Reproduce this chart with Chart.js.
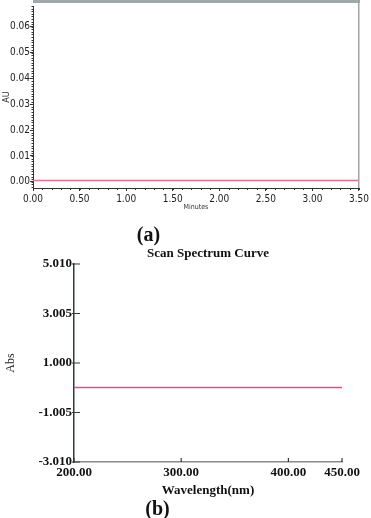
<!DOCTYPE html>
<html><head><meta charset="utf-8">
<script src="https://cdn.jsdelivr.net/npm/chart.js@4/dist/chart.umd.min.js"></script>
<style>
html,body{margin:0;padding:0;background:#fff;}
#wrap{position:relative;width:371px;height:518px;overflow:hidden;background:#fff;}
.box{position:absolute;left:0;width:371px;}
.lbl{position:absolute;font-family:'Liberation Serif','Times New Roman',serif;font-weight:bold;color:#111;white-space:nowrap;transform:translate(-50%,-50%);line-height:1;}
</style></head><body>
<div id="wrap">
 <div class="box" style="top:0;height:215px"><canvas id="ca"></canvas></div>
 <div class="box" style="top:240px;height:278px"><canvas id="cb"></canvas></div>
 <div class="lbl" style="left:148.5px;top:234px;font-size:20px">(a)</div>
 <div class="lbl" style="left:208px;top:252px;font-size:13px">Scan Spectrum Curve</div>
 <div class="lbl" style="left:157.5px;top:508px;font-size:20px">(b)</div>
</div>
<script>
// ---- Chart (a) data ----
const timeMinutes = [0, 0.5, 1.0, 1.5, 2.0, 2.5, 3.0, 3.5];
const auValues = [0.0005, 0.0005, 0.0005, 0.0005, 0.0005, 0.0005, 0.0005, 0.0005];
const auTicks = [0, 0.01, 0.02, 0.03, 0.04, 0.05, 0.06];
const minuteTicks = [0, 0.5, 1.0, 1.5, 2.0, 2.5, 3.0, 3.5];

// ---- Chart (b) data ----
const wavelengths = [200, 250, 300, 350, 400, 450];
const absValues = [0.01, 0.01, 0.01, 0.01, 0.01, 0.01];
const absTicks = [5.010, 3.005, 1.000, -1.005, -3.010];
const wavelengthTicks = [200, 300, 400, 450];

const narrow = "'Liberation Sans Narrow','DejaVu Sans Condensed','Liberation Sans',Arial,sans-serif";
const serif = "'Liberation Serif','Times New Roman',serif";

const decoA = {
  id: 'decoA',
  afterDraw(chart) {
    const {ctx, chartArea: a, scales: {x, y}} = chart;
    ctx.save();
    ctx.fillStyle = '#9fa9a9';
    ctx.fillRect(a.left, 0, a.right - a.left + 1, 3);
    ctx.fillStyle = '#a3a3a3';
    ctx.fillRect(a.right - 1, 0, 1.5, a.bottom);
    ctx.strokeStyle = '#333';
    ctx.lineWidth = 1;
    ctx.beginPath();
    for (let i = 0; i <= 35; i++) {
      const px = Math.round(x.getPixelForValue(i * 0.1)) + 0.5;
      ctx.moveTo(px, a.bottom); ctx.lineTo(px, a.bottom + 2);
    }
    for (let i = -2; i <= 68; i++) {
      const py = Math.round(y.getPixelForValue(i * 0.001)) + 0.5;
      ctx.moveTo(a.left - 1.5, py); ctx.lineTo(a.left + 0.5, py);
    }
    ctx.stroke();
    ctx.restore();
  }
};

new Chart(document.getElementById('ca'), {
  type: 'line',
  data: { datasets: [{
    data: timeMinutes.map((t, i) => ({x: t, y: auValues[i]})),
    borderColor: '#e0708c', borderWidth: 1.5, pointRadius: 0, fill: false, tension: 0
  }]},
  options: {
    responsive: true, maintainAspectRatio: false, animation: false,
    layout: {padding: {left: 0, right: 7, top: 3, bottom: 0}},
    plugins: {legend: {display: false}, tooltip: {enabled: false}},
    scales: {
      x: {
        type: 'linear', min: 0, max: 3.5,
        afterBuildTicks: s => { s.ticks = minuteTicks.map(v => ({value: v})); },
        afterFit: s => { s.height = 27; },
        grid: {drawOnChartArea: false, drawTicks: true, tickLength: 3, color: '#333'},
        border: {color: '#333', width: 1},
        ticks: {padding: 2, maxRotation: 0, autoSkip: false, color: '#222',
          font: {family: narrow, size: 10}, callback: v => Number(v).toFixed(2)},
        title: {display: true, text: 'Minutes', color: '#333',
          font: {family: narrow, size: 7}, padding: {top: 0, bottom: 4}}
      },
      y: {
        type: 'linear', min: -0.0024, max: 0.068,
        afterBuildTicks: s => { s.ticks = auTicks.map(v => ({value: v})); },
        afterFit: s => { s.width = 33; },
        grid: {drawOnChartArea: false, drawTicks: true, tickLength: 3, color: '#333'},
        border: {color: '#333', width: 1},
        ticks: {padding: 0, autoSkip: false, color: '#222',
          font: {family: narrow, size: 10}, callback: v => Number(v).toFixed(2)},
        title: {display: true, text: 'AU', color: '#333',
          font: {family: narrow, size: 9}, padding: {top: 1, bottom: 0}}
      }
    }
  },
  plugins: [decoA]
});

const decoB = {
  id: 'decoB',
  afterDraw(chart) {
    const {ctx, chartArea: a, scales: {x, y}} = chart;
    ctx.save();
    ctx.strokeStyle = '#2f3b3b';
    ctx.lineWidth = 1.2;
    ctx.beginPath();
    absTicks.forEach(v => { const py = y.getPixelForValue(v); ctx.moveTo(a.left - 2, py); ctx.lineTo(a.left + 6, py); });
    wavelengthTicks.forEach(v => { const px = x.getPixelForValue(v); ctx.moveTo(px, a.bottom); ctx.lineTo(px, a.bottom - 4); });
    ctx.stroke();
    ctx.restore();
  }
};

new Chart(document.getElementById('cb'), {
  type: 'line',
  data: { datasets: [{
    data: wavelengths.map((w, i) => ({x: w, y: absValues[i]})),
    borderColor: '#d6548c', borderWidth: 1.5, pointRadius: 0, fill: false, tension: 0
  }]},
  options: {
    responsive: true, maintainAspectRatio: false, animation: false,
    layout: {padding: {left: 0, right: 29, top: 24, bottom: 0}},
    plugins: {legend: {display: false}, tooltip: {enabled: false}},
    scales: {
      x: {
        type: 'linear', min: 200, max: 450,
        afterBuildTicks: s => { s.ticks = wavelengthTicks.map(v => ({value: v})); },
        afterFit: s => { s.height = 56; },
        grid: {drawOnChartArea: false, drawTicks: false, color: '#888'},
        border: {color: '#8a8a8a', width: 1.5},
        ticks: {padding: 3, maxRotation: 0, autoSkip: false, color: '#111',
          font: {family: serif, size: 13, weight: 'bold'}, callback: v => Number(v).toFixed(2)},
        title: {display: true, text: 'Wavelength(nm)', color: '#111',
          font: {family: serif, size: 13, weight: 'bold'}, padding: {top: 0, bottom: 20}}
      },
      y: {
        type: 'linear', min: -3.010, max: 5.010,
        afterBuildTicks: s => { s.ticks = absTicks.map(v => ({value: v})); },
        afterFit: s => { s.width = 74; },
        grid: {drawOnChartArea: false, drawTicks: false, color: '#333'},
        border: {color: '#2f3b3b', width: 1.5},
        ticks: {padding: 2, autoSkip: false, color: '#111',
          font: {family: serif, size: 13, weight: 'bold'}, callback: v => Number(v).toFixed(3)},
        title: {display: true, text: 'Abs', color: '#222',
          font: {family: serif, size: 12}, padding: {top: 4, bottom: 0}}
      }
    }
  },
  plugins: [decoB]
});
</script>
</body></html>
